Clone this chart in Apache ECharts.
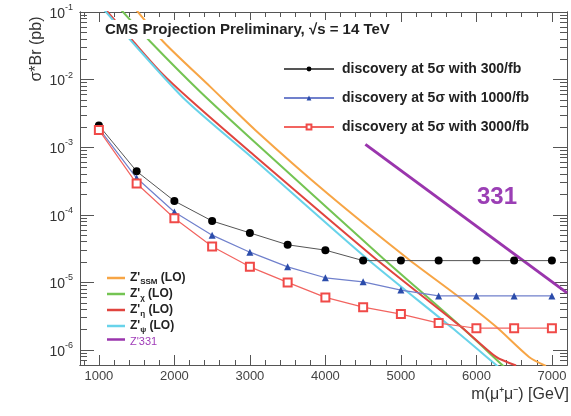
<!DOCTYPE html>
<html>
<head>
<meta charset="utf-8">
<script src="https://cdn.jsdelivr.net/npm/echarts@6/dist/echarts.min.js"></script>
<style>
html, body { margin: 0; padding: 0; background: #fff; }
#main { width: 571px; height: 416px; }
</style>
</head>
<body>
<div id="main"></div>
<script>
// discovery reach, points every 500 GeV
var masses = [1000, 1500, 2000, 2500, 3000, 3500, 4000, 4500, 5000, 5500, 6000, 6500, 7000];
var disc300  = [2.1e-3, 4.4e-4, 1.6e-4, 8.1e-5, 5.4e-5, 3.6e-5, 3.0e-5, 2.1e-5, 2.1e-5, 2.1e-5, 2.1e-5, 2.1e-5, 2.1e-5];
var disc1000 = [1.9e-3, 3.5e-4, 1.1e-4, 5.0e-5, 2.8e-5, 1.7e-5, 1.17e-5, 1.02e-5, 7.7e-6, 6.3e-6, 6.3e-6, 6.3e-6, 6.3e-6];
var disc3000 = [1.8e-3, 2.9e-4, 8.9e-5, 3.4e-5, 1.7e-5, 1.0e-5, 6.0e-6, 4.3e-6, 3.4e-6, 2.5e-6, 2.1e-6, 2.1e-6, 2.1e-6];

// Z' model cross sections (LO)
var ssmMass = [1420, 1857, 2477, 3070, 4020, 5101, 5734, 6262, 6697, 6921];
var ssmXs   = [0.136, 0.036, 7.8e-3, 1.8e-3, 2.1e-4, 2.2e-5, 6.5e-6, 2.2e-6, 7.9e-7, 5.8e-7];
var chiMass = [1224, 1686, 2345, 3004, 4758, 5787, 6328, 6380];
var chiXs   = [0.131, 0.036, 6.56e-3, 1.37e-3, 2.3e-5, 2.26e-6, 6.2e-7, 5.5e-7];
var etaMass = [1026, 1462, 1818, 2213, 3004, 4653, 5800, 6262, 6525];
var etaXs   = [0.131, 0.036, 0.0129, 4.99e-3, 8.5e-4, 2.3e-5, 2.19e-6, 7.9e-7, 5.9e-7];
var psiMass = [1026, 1488, 2147, 3004, 4560, 5681, 6262, 6328];
var psiXs   = [0.123, 0.0314, 4.99e-3, 7.4e-4, 2.2e-5, 2.11e-6, 6.0e-7, 5.2e-7];
var z331Mass = [4530, 7200];
var z331Xs   = [1.1e-3, 7.0e-6];

// axis ticks
var xMajor = [1000, 2000, 3000, 4000, 5000, 6000, 7000];
var yMajor = [1e-6, 1e-5, 1e-4, 1e-3, 1e-2, 1e-1];

var xMinor = [];
for (var m = 800; m <= 7200; m += 200) {
    if (m % 1000 !== 0) xMinor.push(m);
}
var yMinor = [];
for (var e = -7; e <= -2; e++) {
    for (var k = 2; k <= 9; k++) yMinor.push(k * Math.pow(10, e));
}

function pair(xs, ys) {
    return xs.map(function (x, i) { return [x, ys[i]]; });
}

var font = 'Liberation Sans, Arial, Helvetica, sans-serif';
var frame = '#555';
var xMin = 750, xMax = 7200, yMin = 6e-7, yMax = 0.1;

function xAx(pos, ticks, len, labels) {
    return {
        type: 'value', position: pos, min: xMin, max: xMax,
        axisLine: { show: true, lineStyle: { color: frame, width: 1 } },
        axisTick: { show: true, inside: true, length: len, customValues: ticks, lineStyle: { color: frame } },
        axisLabel: labels ? {
            show: true, customValues: ticks, margin: 5,
            formatter: function (v) { return String(v); },
            color: '#444', fontSize: 13, fontFamily: font
        } : { show: false },
        splitLine: { show: false }
    };
}

function yAx(pos, ticks, len, labels) {
    return {
        type: 'log', logBase: 10, position: pos, min: yMin, max: yMax,
        axisLine: { show: true, lineStyle: { color: frame, width: 1 } },
        axisTick: { show: true, inside: true, length: len, customValues: ticks, lineStyle: { color: frame } },
        axisLabel: labels ? {
            show: true, customValues: ticks, margin: 7,
            formatter: function (v) {
                return '{b|10}{s|' + Math.round(Math.log10(v)) + '}';
            },
            rich: {
                b: { fontSize: 14, lineHeight: 18, verticalAlign: 'bottom', color: '#333', fontFamily: font },
                s: { fontSize: 9, lineHeight: 18, verticalAlign: 'top', color: '#333', fontFamily: font }
            }
        } : { show: false },
        splitLine: { show: false }
    };
}

var zNames = {
    "Z'SSM (LO)": "{t|Z'}{u|SSM}{t| (LO)}",
    "Z'χ (LO)": "{t|Z'}{u|χ}{t| (LO)}",
    "Z'η (LO)": "{t|Z'}{u|η}{t| (LO)}",
    "Z'ψ (LO)": "{t|Z'}{u|ψ}{t| (LO)}",
    "Z'331": "{p|Z'331}"
};

function theory(name, xs, ys, color, width, smooth) {
    return {
        name: name, type: 'line', data: pair(xs, ys),
        symbol: 'none', smooth: smooth,
        lineStyle: { color: color, width: width },
        itemStyle: { color: color },
        z: 3
    };
}

var myChart = echarts.init(document.getElementById('main'));

var option = {
    animation: false,
    backgroundColor: '#fff',
    title: {
        text: 'CMS Projection Preliminary, √s = 14 TeV',
        left: 102, top: 20, padding: [2, 3],
        backgroundColor: '#fff',
        textStyle: { fontSize: 15, fontWeight: 'bold', color: '#222', fontFamily: font }
    },
    grid: { left: 80, top: 12, right: 4, bottom: 51, containLabel: false },
    xAxis: [
        xAx('bottom', xMajor, 10, true),
        xAx('bottom', xMinor, 5, false),
        xAx('top', xMajor, 10, false),
        xAx('top', xMinor, 5, false)
    ],
    yAxis: [
        yAx('left', yMajor, 14, true),
        yAx('left', yMinor, 7, false),
        yAx('right', yMajor, 14, false),
        yAx('right', yMinor, 7, false)
    ],
    legend: [
        {
            orient: 'vertical', left: 278, top: 57,
            itemWidth: 50, itemHeight: 6, itemGap: 15,
            data: ['discovery at 5σ with 300/fb', 'discovery at 5σ with 1000/fb', 'discovery at 5σ with 3000/fb'],
            textStyle: { fontSize: 14, fontWeight: 'bold', color: '#222', fontFamily: font, padding: [0, 0, 0, 3] }
        },
        {
            orient: 'vertical', left: 102, top: 267,
            icon: 'rect', itemWidth: 18, itemHeight: 2.5, itemGap: 2.5,
            data: ["Z'SSM (LO)", "Z'χ (LO)", "Z'η (LO)", "Z'ψ (LO)", "Z'331"],
            formatter: function (name) { return zNames[name]; },
            textStyle: {
                fontFamily: font,
                rich: {
                    t: { fontSize: 12, fontWeight: 'bold', color: '#222', lineHeight: 15, verticalAlign: 'middle', fontFamily: font },
                    u: { fontSize: 8, fontWeight: 'bold', color: '#222', lineHeight: 15, verticalAlign: 'bottom', fontFamily: font },
                    p: { fontSize: 11, color: '#a03cb8', lineHeight: 15, verticalAlign: 'bottom', fontFamily: font }
                }
            }
        }
    ],
    graphic: [
        {
            type: 'text', x: 37, y: 49, rotation: Math.PI / 2,
            style: { text: 'σ*Br (pb)', font: '16px ' + font, fill: '#333', align: 'center', verticalAlign: 'middle' }
        },
        {
            type: 'text', x: 569, y: 395,
            style: { text: 'm(μ⁺μ⁻) [GeV]', font: '16px ' + font, fill: '#333', align: 'right', verticalAlign: 'middle' }
        },
        {
            type: 'text', x: 497, y: 197,
            style: { text: '331', font: 'bold 24px ' + font, fill: '#9b3fb5', align: 'center', verticalAlign: 'middle' }
        }
    ],
    series: [
        theory("Z'SSM (LO)", ssmMass, ssmXs, '#f7a545', 2, 0.25),
        theory("Z'χ (LO)", chiMass, chiXs, '#74c453', 2, 0.25),
        theory("Z'η (LO)", etaMass, etaXs, '#e0443e', 2, 0.25),
        theory("Z'ψ (LO)", psiMass, psiXs, '#68d3ea', 2, 0.25),
        theory("Z'331", z331Mass, z331Xs, '#9a35ad', 3, false),
        {
            name: 'discovery at 5σ with 300/fb', type: 'line', data: pair(masses, disc300),
            symbol: 'circle', symbolSize: 8,
            itemStyle: { color: '#000' },
            lineStyle: { color: '#555', width: 1 },
            z: 5
        },
        {
            name: 'discovery at 5σ with 1000/fb', type: 'line', data: pair(masses, disc1000),
            symbol: 'triangle', symbolSize: 7,
            itemStyle: { color: '#2b4cab' },
            lineStyle: { color: '#7080cc', width: 1.2 },
            z: 5
        },
        {
            name: 'discovery at 5σ with 3000/fb', type: 'line', data: pair(masses, disc3000),
            symbol: 'emptyRect', symbolSize: 8,
            itemStyle: { color: '#f04a48', borderWidth: 1.2 },
            lineStyle: { color: '#f26460', width: 1.2 },
            z: 5
        }
    ]
};

myChart.setOption(option);
window.addEventListener('resize', function () {
    myChart.resize();
});
</script>
</body>
</html>
